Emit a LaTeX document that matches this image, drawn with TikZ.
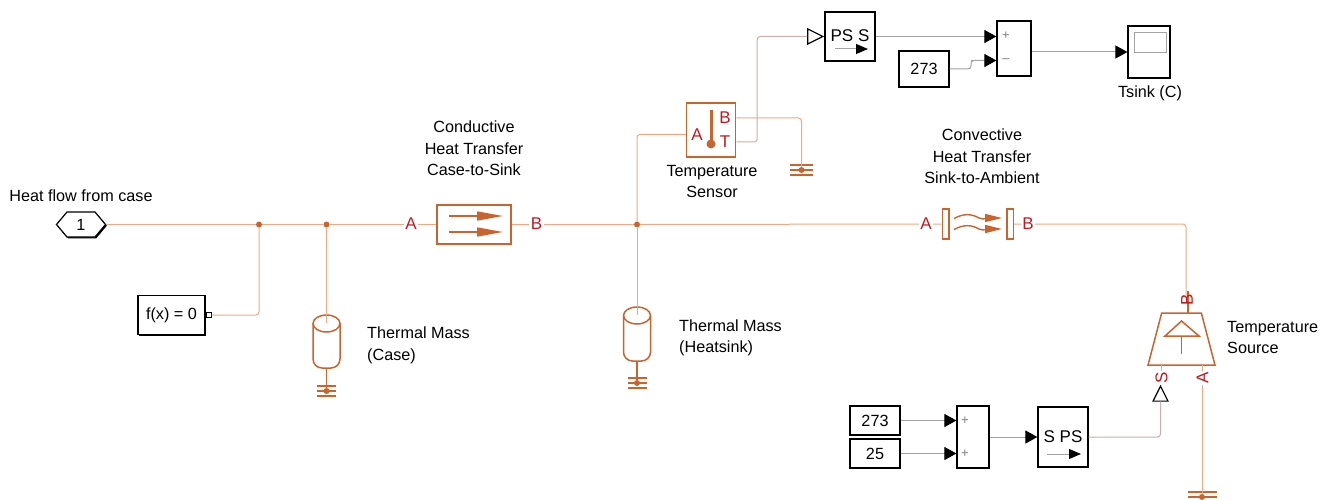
\documentclass[tikz,border=0pt]{standalone}
\usepackage{fontspec}
\setmainfont{Liberation Sans}
\usepackage{xcolor}
\usetikzlibrary{arrows.meta, positioning, shapes.geometric, shapes.symbols, shadows, calc}
\definecolor{thermal}{HTML}{C8652F}
\definecolor{wirethermal}{HTML}{EBAA83}
\definecolor{wiresignal}{HTML}{A3A3A3}
\definecolor{wirephys}{HTML}{CDADAD}
\definecolor{portred}{HTML}{BF1A22}
\newcommand{\gnd}[4]{
  \node[dot] (#1) at (#2,#3) {};
  \foreach \dy in {-5,0,5} {
    \draw[thermal, line width=1.3pt] ($(#1)+(-#4,\dy)$) -- ($(#1)+(#4,\dy)$);
  }
}
\newcommand{\massbody}[4]{
  \coordinate (#1) at (#2,#4);
  \draw[glyph] (#2,#3+8.5) ellipse [x radius=13.5pt, y radius=8.5pt];
  \draw[glyph, rounded corners=9pt] (#2-13.5,#3+8.5) -- (#2-13.5,#4) -- (#2+13.5,#4) -- (#2+13.5,#3+8.5);
}
\begin{document}
\begin{tikzpicture}[
  x=1pt, y=-1pt,
  font=\fontsize{16.2}{21.5}\selectfont,
  block/.style={draw=black, fill=white, line width=1.2pt, inner sep=0pt,
                general shadow={shadow xshift=1.3pt, shadow yshift=-1.3pt, fill=black}},
  tblock/.style={rectangle, draw=thermal, line width=1.5pt, fill=white, inner sep=0pt},
  dot/.style={circle, fill=thermal, inner sep=0pt, minimum size=6pt},
  inport/.style={isosceles triangle, isosceles triangle stretches, inner sep=0pt,
                 minimum width=15pt, minimum height=15pt, draw=black, fill=white, line width=1.2pt},
  lbl/.style={align=center, inner sep=0pt},
  lblleft/.style={align=left, inner sep=0pt, anchor=west},
  port/.style={text=portred, inner sep=1.5pt, fill=white, font=\fontsize{17}{17}\selectfont},
  wireT/.style={wirethermal, line width=1pt, rounded corners=3pt},
  wireS/.style={wiresignal, line width=1pt, rounded corners=3pt},
  wireP/.style={wirephys, line width=1pt, rounded corners=3pt},
  arrow/.style={wiresignal, line width=1pt, -{Triangle[length=12pt, width=13pt, color=black]}},
  minisign/.style={lbl, text=gray, font=\fontsize{13}{13}\selectfont},
  glyph/.style={thermal, line width=1.5pt},
  flow/.style={thermal, line width=1.5pt, -{Triangle[length=26pt, width=9pt]}},
  wave/.style={thermal, line width=1.4pt, -{Triangle[length=17pt, width=8pt]}},
  minitip/.style={wiresignal, line width=1pt, -{Triangle[length=12pt, width=10pt, color=black]}},
]
  \useasboundingbox (0,0) rectangle (1331,500);

  \node[signal, signal to=east and west, signal pointer angle=100, block,
        minimum width=49pt, minimum height=25pt] (flowin) at (81,224.5) {1};
  \node[block, minimum width=67pt, minimum height=39pt] (fx) at (171.5,315) {f(x) = 0};
  \node[rectangle, draw=black, fill=white, line width=1pt, inner sep=0pt, minimum size=5pt,
        right=0pt of fx] (fxport) {};

  \node[dot] (jfx) at (259,224.5) {};
  \node[dot] (jcase) at (326.5,224.5) {};
  \node[dot] (jsink) at (637,224.5) {};

  \node[tblock, minimum width=74pt, minimum height=39pt] (cond) at (474,224.5) {};
  \node[tblock, minimum width=6.5pt, minimum height=30pt] (convL) at (945.5,224) {};
  \node[tblock, minimum width=6.5pt, minimum height=30pt] (convR) at (1010,224) {};
  \node[tblock, minimum width=49pt, minimum height=54pt] (sensor) at (711,130) {};

  \massbody{masscase}{326.5}{315}{368}
  \massbody{masssink}{637}{307}{361}

  \gnd{gndcase}{326.5}{391}{9.5}
  \gnd{gndsink}{637}{383}{9.5}
  \gnd{gndsensor}{801.5}{170}{11.5}
  \gnd{gndsource}{1202}{497}{14.5}

  \node[trapezium, trapezium stretches=true, trapezium angle=72, draw=thermal, line width=1.5pt,
        inner sep=0pt, minimum width=67pt, minimum height=52pt] (source) at (1181.5,339) {\phantom{x}};

  \node[block, minimum width=50pt, minimum height=49pt] (ps2s) at (850,36.5) {};
  \node[inport, left=0pt of ps2s.west] (ps2sin) {};
  \node[block, minimum width=34pt, minimum height=55pt] (diff) at (1014,48.5) {};
  \node[block, minimum width=50pt, minimum height=36pt] (c273top) at (924,69) {273};
  \node[block, minimum width=42pt, minimum height=52pt] (scope) at (1149,52) {};
  \node[draw=wiresignal, line width=1pt, fill=white, inner sep=0pt,
        minimum width=32pt, minimum height=20pt] (screen) at (1150,43) {};

  \node[block, minimum width=50pt, minimum height=29pt] (c273) at (875,420.5) {273};
  \node[block, minimum width=50pt, minimum height=29pt] (c25) at (875,453.5) {25};
  \node[block, minimum width=32pt, minimum height=62pt] (sum) at (973,437) {};
  \node[block, minimum width=50pt, minimum height=60pt] (s2ps) at (1063,437) {};
  \node[inport, shape border rotate=90] (srcin) at (1160.5,396.5) {};

  \coordinate (casetop) at (326.5,323);
  \coordinate (sinktop) at (637,315);
  \coordinate (srcS) at (1161.5,365);
  \coordinate (srcA) at (1202,365);
  \coordinate (srcB) at (1186,300);
  \coordinate (stemtop) at (1188,291);
  \coordinate (stembot) at (1188,313);
  \coordinate (bend273) at (971,60.5);

  \draw[wireT] (flowin.east) -- (jfx) -- (jcase) -- (cond.west);
  \draw[wireT] (cond.east) -- (jsink) -- (convL.west);
  \draw[wireT] (fxport.east) -| (jfx);
  \draw[wireT] (jcase) -- (casetop);
  \draw[wireT] (jsink) -- (sinktop);
  \draw[wireT] (convR.east) -| (srcB);
  \draw[wireT] (srcA) -- (gndsource);
  \draw[glyph] (masscase) -- (gndcase);
  \draw[glyph] (masssink) -- (gndsink);
  \draw[glyph] (stemtop) -- (stembot);

  \node[port] (condA) at (411,224) {A};
  \node[port] (condB) at (536.5,224) {B};
  \node[port] (convA) at (926,224) {A};
  \node[port] (convB) at (1028,224) {B};
  \node[port, inner sep=0pt, fill=none] (sensA) at (697,134.5) {A};
  \node[port, inner sep=0pt, fill=none] (sensB) at (725,118) {B};
  \node[port, inner sep=0pt, fill=none] (sensT) at (725,142) {T};
  \node[port, inner sep=0pt, rotate=90, fill=none] (labB) at (1187,300) {B};
  \node[port, rotate=90, fill=none] (labS) at (1161.5,378) {S};
  \node[port, rotate=90] (labA) at (1202.5,378) {A};

  \draw[wireT] (srcS) -- (labS.east);
  \draw[wireT] (sensor.west |- sensA) -| (jsink);
  \draw[wireT] (sensor.east |- sensB) -| (gndsensor);
  \draw[wireP] (sensor.east |- sensT) -| ($(ps2sin.lower side)+(-50,0)$) -- (ps2sin.lower side);
  \draw[wireP] (s2ps.east) -| (srcin.lower side);

  \draw[arrow] (ps2s.east) -- (ps2s.east -| diff.west);
  \draw[wireS] (c273top.east) -| (bend273) -- ($(diff.west |- bend273)+(-12,0)$);
  \draw[arrow] (bend273) -- (diff.west |- bend273);
  \draw[arrow] (diff.east |- scope.west) -- (scope.west);
  \draw[arrow] (c273.east) -- (sum.west |- c273.east);
  \draw[arrow] (c25.east) -- (sum.west |- c25.east);
  \draw[arrow] (sum.east) -- (s2ps.west);

  \node[lbl] (flowlabel) at (81,196) {Heat flow from case};
  \node[lbl] (condlabel) at (474,148.5) {Conductive\\Heat Transfer\\Case-to-Sink};
  \node[lbl] (convlabel) at (982,156.5) {Convective\\Heat Transfer\\Sink-to-Ambient};
  \node[lbl] (senslabel) at (712,181.5) {Temperature\\Sensor};
  \node[lblleft] (caselabel) at (367,345.5) {Thermal Mass\\(Case)};
  \node[lblleft] (sinklabel) at (679,338) {Thermal Mass\\(Heatsink)};
  \node[lblleft] (srclabel) at (1227,337.5) {Temperature\\Source};
  \node[lbl] (scopelabel) at (1150,93) {Tsink (C)};

  \node[lbl, font=\fontsize{17}{17}\selectfont] (ps2stext) at (850,36) {PS S};
  \node[lbl, font=\fontsize{17}{17}\selectfont] (s2pstext) at (1063,437) {S PS};
  \node[minisign] (plus1) at (1006,36) {+};
  \node[minisign] (minus1) at (1006,61) {--};
  \node[minisign] (plus2) at (965,421) {+};
  \node[minisign] (plus3) at (965,454) {+};

  \coordinate (ps2sa) at (835,49);
  \coordinate (ps2sb) at (868,49);
  \coordinate (s2psa) at (1047,454);
  \coordinate (s2psb) at (1081,454);
  \draw[minitip] (ps2sa) -- (ps2sb);
  \draw[minitip] (s2psa) -- (s2psb);

  \draw[flow] (449,216) -- (503,216);
  \draw[flow] (449,232) -- (503,232);
  \draw[wave] (954,218.5) .. controls (964,213) and (972,214) .. (979,218) .. controls (983,220) and (990,218) .. (1002,218);
  \draw[wave] (954,229.5) .. controls (964,224) and (972,225) .. (979,229) .. controls (983,231) and (990,229) .. (1002,229);

  \draw[thermal, line width=3pt] (711,110) -- (711,144);
  \node[dot, minimum size=9pt] (bulb) at (711,144) {};

  \draw[glyph] (1165,336) -- (1181.5,321) -- (1199,336) -- cycle;
  \draw[glyph] (1181.5,336) -- (1181.5,354);
\end{tikzpicture}
\end{document}
